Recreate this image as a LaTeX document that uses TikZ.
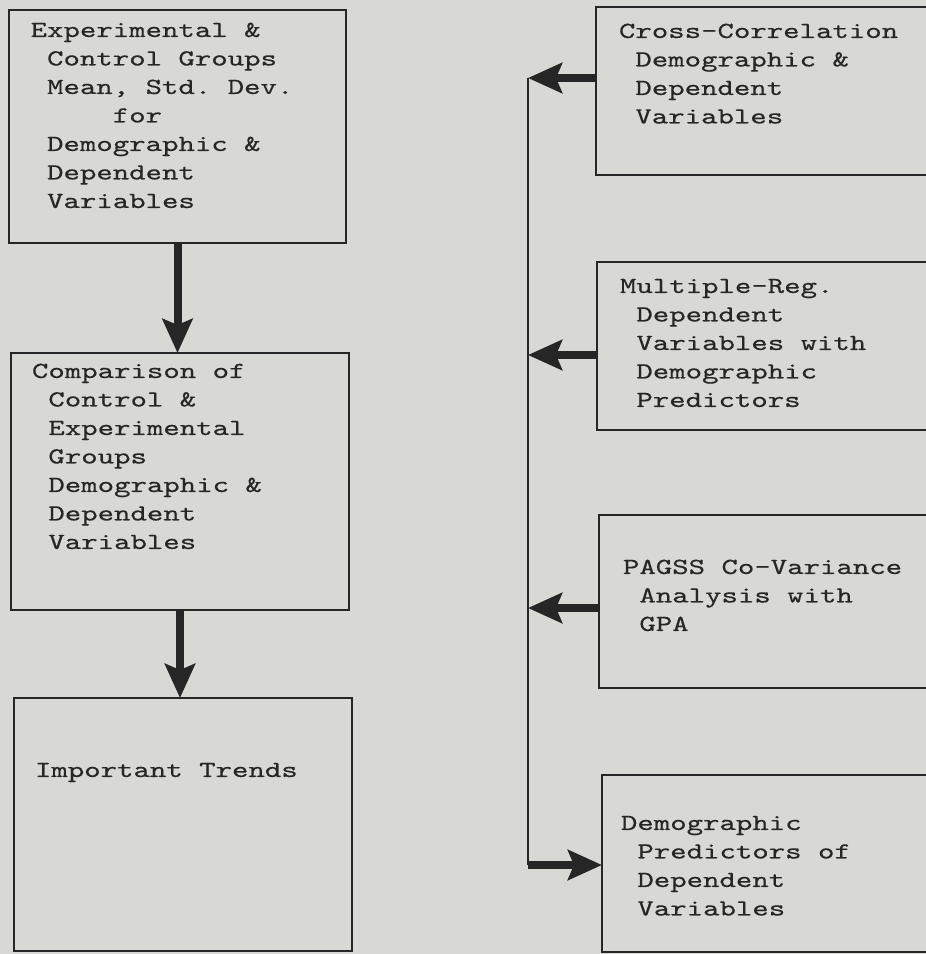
\documentclass[tikz,border=0pt]{standalone}
\usepackage{fontspec}
\setmonofont{lmmono10-regular}[Extension=.otf,FakeStretch=1.36,FakeBold=0.4]
\usepackage{tikz}
\usetikzlibrary{arrows.meta, positioning}
\definecolor{paper}{RGB}{216,216,213}
\definecolor{ink}{RGB}{38,38,38}

\begin{document}
\begin{tikzpicture}[x=1pt,y=-1pt,
  box/.style={draw=ink,line width=1.6pt,rectangle,anchor=north west,inner sep=0pt,outer sep=0pt},
  txt/.style={anchor=north west,inner sep=0pt,outer sep=0pt,align=left,text=ink,
    font=\ttfamily\fontsize{23}{28.5}\selectfont},
  fat/.style={draw=ink,line width=8pt,-{Stealth[length=34pt,width=30pt,inset=6pt]}},
  bus/.style={draw=ink,line width=1.8pt}]

  \useasboundingbox (0,0) rectangle (926,954);
  \fill[paper] (0,0) rectangle (926,954);
  \clip (0,0) rectangle (926,954);

  \node[box,minimum width=337pt,minimum height=233pt] (mean) at (9,10) {};
  \node[box,minimum width=338pt,minimum height=257pt,below=110pt of mean,xshift=2.5pt] (compare) {};
  \node[box,minimum width=338pt,minimum height=253pt,below=88pt of compare,xshift=3pt] (trends) {};

  \node[box,minimum width=340pt,minimum height=168pt] (xcorr) at (596,7) {};
  \node[box,minimum width=340pt,minimum height=168pt,below=87pt of xcorr,xshift=1pt] (multreg) {};
  \node[box,minimum width=340pt,minimum height=173pt,below=85pt of multreg,xshift=2pt] (pagss) {};
  \node[box,minimum width=340pt,minimum height=177pt,below=87pt of pagss,xshift=3pt] (predict) {};

  \node[txt,below right=7pt and 21.7pt of mean.north west] (meantext)
    {\strut Experimental \&\\~Control Groups\\~Mean, Std. Dev.\\~~~~~for\\~Demographic \&\\~Dependent\\~Variables};
  \node[txt,below right=5pt and 21pt of compare.north west] (comparetext)
    {\strut Comparison of\\~Control \&\\~Experimental\\~Groups\\~Demographic \&\\~Dependent\\~Variables};
  \node[txt,below right=59pt and 21pt of trends.north west] (trendstext)
    {\strut Important Trends};
  \node[txt,below right=11pt and 23pt of xcorr.north west] (xcorrtext)
    {\strut Cross-Correlation\\~Demographic \&\\~Dependent\\~Variables};
  \node[txt,below right=11pt and 23pt of multreg.north west] (multregtext)
    {\strut Multiple-Reg.\\~Dependent\\~Variables with\\~Demographic\\~Predictors};
  \node[txt,below right=39pt and 24pt of pagss.north west] (pagsstext)
    {\strut PAGSS Co-Variance\\~Analysis with\\~GPA};
  \node[txt,below right=35pt and 19pt of predict.north west] (predicttext)
    {\strut Demographic\\~Predictors of\\~Dependent\\~Variables};

  \coordinate (jA) at (528,78);
  \coordinate (jB) at (528,355);
  \coordinate (jC) at (528,608);
  \coordinate (jD) at (528,865);

  \draw[bus] (jA) -- (jD);
  \draw[fat] (xcorr.west |- jA) -- (jA);
  \draw[fat] (multreg.west |- jB) -- (jB);
  \draw[fat] (pagss.west |- jC) -- (jC);
  \draw[fat] (jD) -- (jD -| predict.west);

  \draw[fat] (mean.south) -- (mean.south |- compare.north);
  \draw[fat] (compare.south) -- (compare.south |- trends.north);
\end{tikzpicture}
\end{document}
